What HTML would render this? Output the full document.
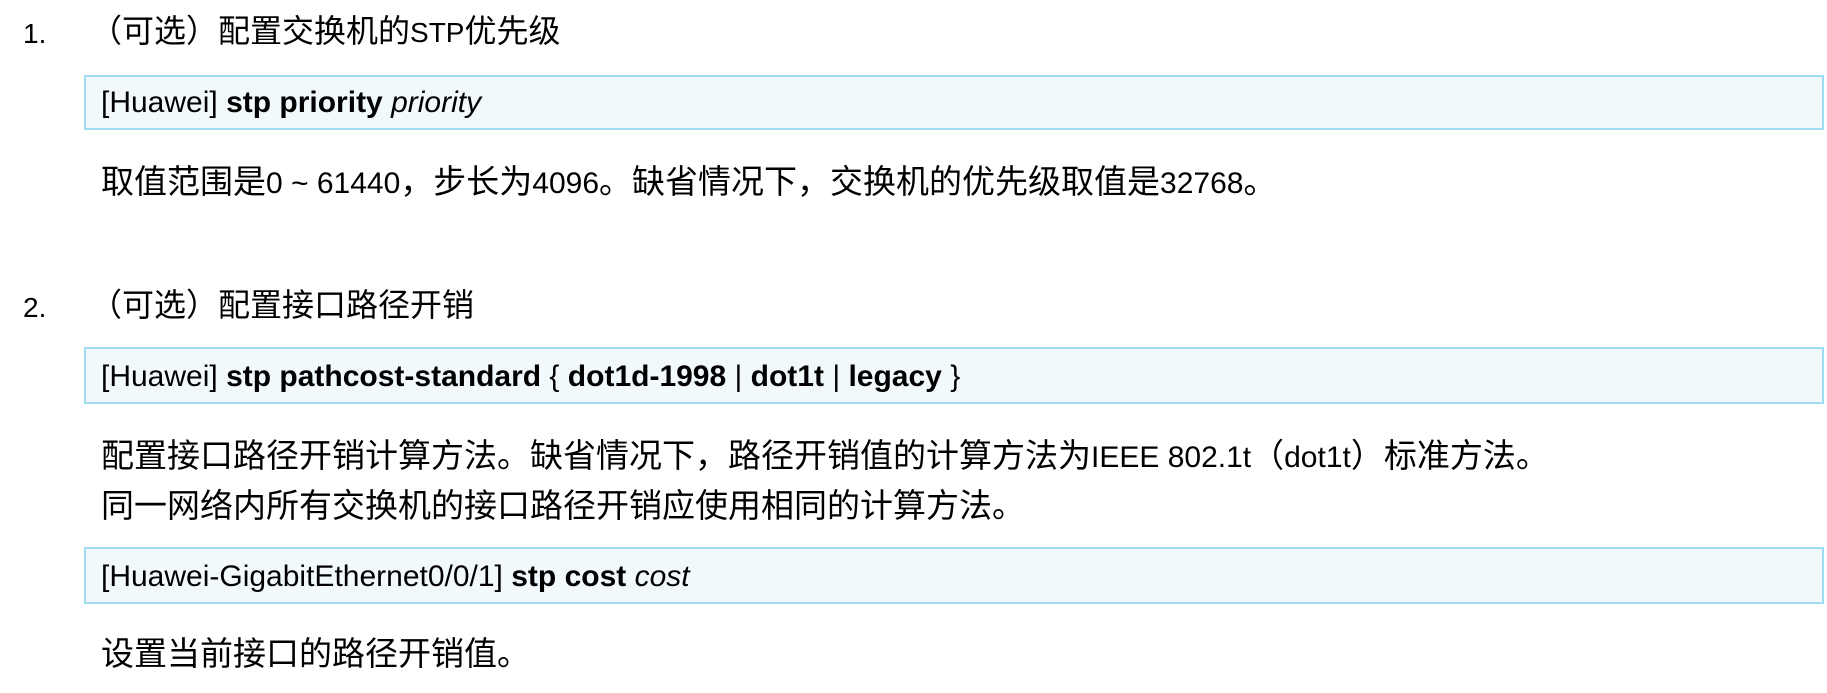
<!DOCTYPE html>
<html><head><meta charset="utf-8"><style>
html,body{margin:0;padding:0;background:#fff;}
body{width:1827px;height:693px;position:relative;overflow:hidden;font-family:"Liberation Sans","Noto Sans CJK SC",sans-serif;color:#000;}
.t{position:absolute;white-space:nowrap;line-height:1;}
.box{position:absolute;left:84px;width:1740px;background:#f2f9fc;border:2px solid #9ddcf2;box-sizing:border-box;}
.h{font-size:32px;}
.c{font-size:30px;}
.d{font-size:33px;}
.l{font-size:28px;}
.m{font-size:30px;}
</style></head><body>
<div class="t h" style="left:23px;top:16px;"><span class="l">1.</span></div>
<div class="t h" style="left:90px;top:15px;">（可选）配置交换机的<span class="l">STP</span>优先级</div>
<div class="box" style="top:75px;height:55px;"></div>
<div class="t c" style="left:101px;top:88px;">[Huawei] <b>stp priority</b> <i>priority</i></div>
<div class="t d" style="left:101px;top:165px;">取值范围是<span class="m">0 ~ 61440</span>，步长为<span class="m">4096</span>。缺省情况下，交换机的优先级取值是<span class="m">32768</span>。</div>

<div class="t h" style="left:23px;top:290px;"><span class="l">2.</span></div>
<div class="t h" style="left:90px;top:289px;">（可选）配置接口路径开销</div>
<div class="box" style="top:347px;height:57px;"></div>
<div class="t c" style="left:101px;top:362px;">[Huawei] <b>stp pathcost-standard</b> { <b>dot1d-1998</b> | <b>dot1t</b> | <b>legacy</b> }</div>
<div class="t d" style="left:101px;top:439px;">配置接口路径开销计算方法。缺省情况下，路径开销值的计算方法为<span class="m">IEEE 802.1t</span>（<span class="m">dot1t</span>）标准方法。</div>
<div class="t d" style="left:101px;top:489px;">同一网络内所有交换机的接口路径开销应使用相同的计算方法。</div>
<div class="box" style="top:547px;height:57px;"></div>
<div class="t c" style="left:101px;top:562px;">[Huawei-GigabitEthernet0/0/1] <b>stp cost</b> <i>cost</i></div>
<div class="t d" style="left:101px;top:637px;">设置当前接口的路径开销值。</div>
</body></html>
